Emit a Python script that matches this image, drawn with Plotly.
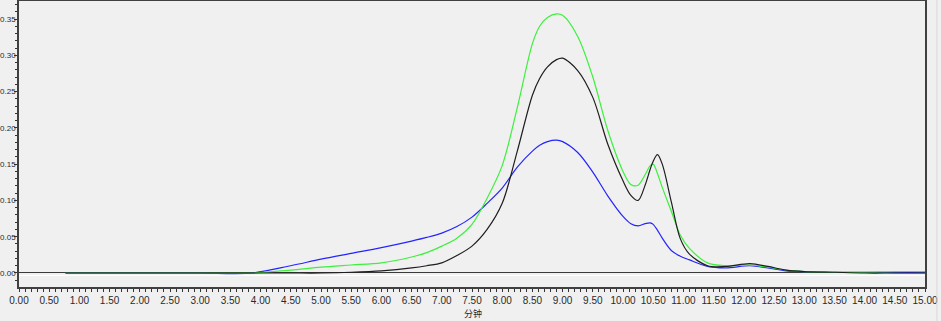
import plotly.graph_objects as go

# retention time (minutes)
time_min = [0.77, 2.0, 3.0, 3.86, 4.5, 5.0, 5.5, 6.0, 6.5, 6.75, 7.0, 7.25, 7.5, 7.75,
            8.0, 8.25, 8.5, 8.62, 8.75, 8.9, 9.0, 9.25, 9.5, 9.75, 10.0, 10.13, 10.25,
            10.37, 10.45, 10.5, 10.57, 10.65, 10.8, 10.95, 11.1, 11.4, 11.7,
            12.1, 12.4, 12.7, 13.0, 13.5, 14.0, 14.5, 15.0]

black_au = [0.0, 0.0, 0.0, 0.0, 0.0, 0.0, 0.001, 0.003, 0.007, 0.010, 0.014, 0.024, 0.037, 0.060,
            0.096, 0.168, 0.245, 0.268, 0.284, 0.294, 0.296, 0.279, 0.242, 0.177, 0.127, 0.107, 0.100,
            0.122, 0.143, 0.154, 0.163, 0.150, 0.098, 0.047, 0.026, 0.010, 0.009,
            0.013, 0.009, 0.004, 0.002, 0.001, 0.0, 0.0, 0.0]

green_au = [0.0, 0.0, 0.0, 0.0, 0.004, 0.008, 0.011, 0.014, 0.022, 0.028, 0.037, 0.048, 0.067, 0.103,
            0.148, 0.228, 0.316, 0.340, 0.352, 0.357, 0.355, 0.326, 0.270, 0.196, 0.140, 0.122, 0.121,
            0.136, 0.148, 0.150, 0.137, 0.118, 0.085, 0.052, 0.034, 0.014, 0.010,
            0.011, 0.008, 0.004, 0.002, 0.001, 0.001, 0.002, 0.002]

blue_au = [0.0, 0.0, 0.0, 0.0, 0.010, 0.019, 0.027, 0.035, 0.044, 0.049, 0.055, 0.064, 0.077, 0.096,
           0.117, 0.146, 0.168, 0.176, 0.181, 0.183, 0.181, 0.166, 0.139, 0.106, 0.078, 0.068, 0.065,
           0.068, 0.069, 0.067, 0.059, 0.048, 0.031, 0.023, 0.018, 0.009, 0.007,
           0.010, 0.007, 0.003, 0.002, 0.001, 0.001, 0.0005, 0.0005]

x_ticks = [i * 0.5 for i in range(31)]
x_tick_text = [f"{v:.2f}" for v in x_ticks]
y_ticks = [0.0, 0.05, 0.10, 0.15, 0.20, 0.25, 0.30, 0.35]
y_tick_text = [f"{v:.2f}" for v in y_ticks]
x_title = "分钟"

series = [(blue_au, "#2424ff"), (green_au, "#3cf03c"), (black_au, "#1e1e1e")]

fig = go.Figure()
for vals, col in series:
    fig.add_trace(go.Scatter(x=time_min, y=vals, mode="lines",
                             line=dict(color=col, width=1.2, shape="spline", smoothing=0.9),
                             showlegend=False, hoverinfo="skip"))

xfont = dict(family="Liberation Sans, Arial", size=10, color="#2a2a2a")
yfont = dict(family="Liberation Sans, Arial", size=8, color="#2a2a2a")

fig.update_layout(
    width=941, height=321,
    margin=dict(l=19, r=16, t=1, b=34),
    paper_bgcolor="#f0f0f0", plot_bgcolor="#f0f0f0",
    xaxis=dict(range=[0, 15], tickvals=x_ticks, ticktext=x_tick_text, ticks="outside",
               ticklen=3, tickcolor="#333", tickwidth=1, showgrid=False, zeroline=False,
               showline=True, linecolor="#404040", linewidth=1.5, mirror=True,
               tickfont=xfont, automargin=False,
               minor=dict(ticks="outside", dtick=0.1, ticklen=3, tickcolor="#333", showgrid=False)),
    yaxis=dict(range=[-0.0193, 0.3748], tickvals=y_ticks, ticktext=y_tick_text, ticks="outside",
               ticklen=3, tickcolor="#333", tickwidth=1, showgrid=False,
               zeroline=True, zerolinecolor="#3a3a3a", zerolinewidth=1.2,
               showline=True, linecolor="#404040", linewidth=1.5, mirror=True,
               tickfont=yfont, automargin=False, ticklabelstandoff=-3,
               minor=dict(ticks="outside", dtick=0.01, ticklen=2, tickcolor="#333", showgrid=False)),
    shapes=[
        dict(type="line", xref="paper", yref="y", x0=0, x1=1, y0=-0.0035, y1=-0.0035,
             line=dict(color="#ffffff", width=1), layer="below"),
        dict(type="line", xref="paper", yref="paper", x0=1.0132, x1=1.0132, y0=-0.125, y1=1.01,
             line=dict(color="#d8d8d8", width=1)),
    ],
    annotations=[dict(text=x_title, xref="paper", yref="paper", x=0.501, y=-0.091,
                      showarrow=False, xanchor="center", yanchor="middle",
                      font=dict(family="Noto Sans CJK SC", size=9, color="#2a2a2a"))],
)

fig.write_html("out.html")
